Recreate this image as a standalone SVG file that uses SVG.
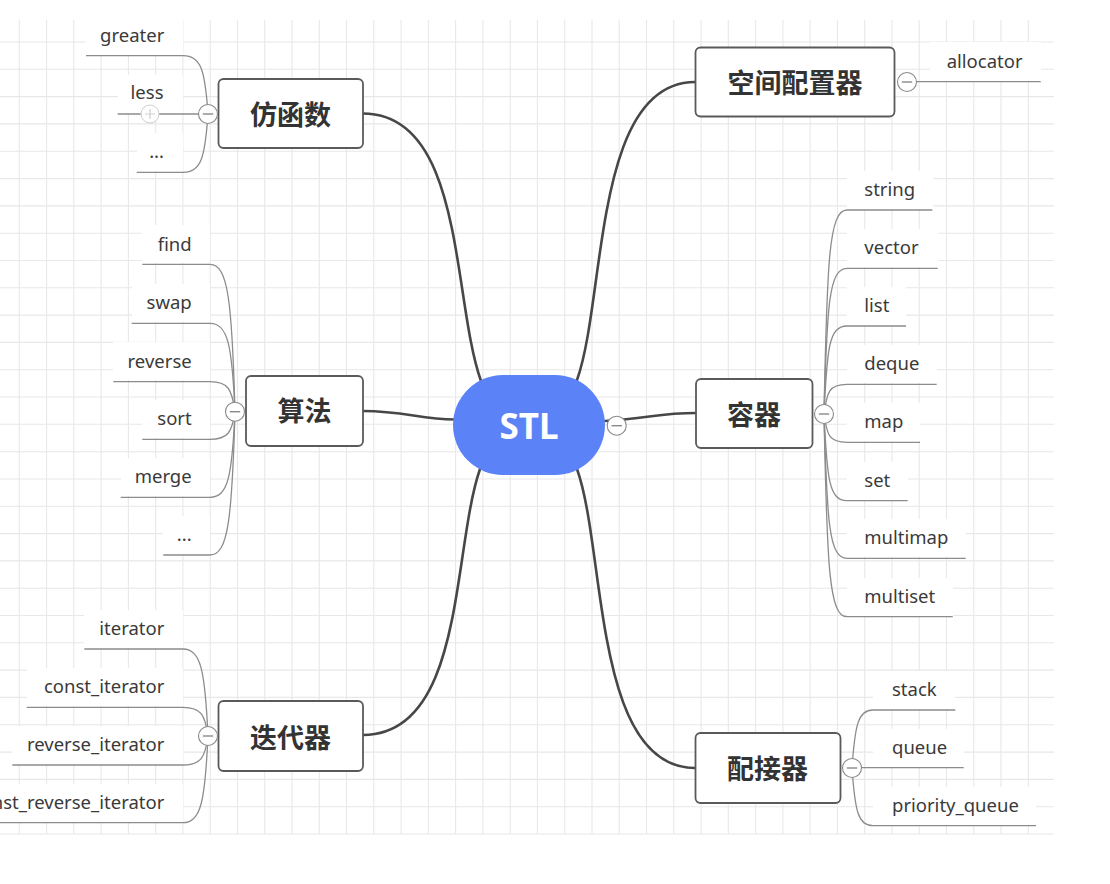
<svg xmlns="http://www.w3.org/2000/svg" width="1110" height="884" viewBox="0 0 1110 884">
<style>
.grid{fill:none;stroke:#e8e8e8;stroke-width:1.1}
.main{fill:none;stroke:#474747;stroke-width:2.6;stroke-linecap:round}
.sub{fill:none;stroke:#8c8c8c;stroke-width:1.3}
.box{fill:#ffffff;stroke:#5a5a5a;stroke-width:1.8}
.lbl{fill:#ffffff;stroke:none}
.bt{font-family:"Noto Sans CJK SC","Noto Sans",sans-serif;font-weight:700;font-size:27px;fill:#333333;text-anchor:middle}
.ct{font-family:"Noto Sans","Noto Sans CJK SC",sans-serif;font-size:18.5px;fill:#3a3a3a}
.l{text-anchor:end}
.r{text-anchor:start}
.col{fill:#ffffff;stroke:#8a8a8a;stroke-width:1.1}
.minus{stroke:#8a8a8a;stroke-width:1.4}
</style>
<rect x="0" y="0" width="1110" height="884" fill="#ffffff"/>
<g id="grid">
<path class="grid" d="M19.3,20V834M46.6,20V834M73.8,20V834M101.1,20V834M128.4,20V834M155.7,20V834M182.9,20V834M210.2,20V834M237.5,20V834M264.7,20V834M292,20V834M319.3,20V834M346.5,20V834M373.8,20V834M401.1,20V834M428.4,20V834M455.6,20V834M482.9,20V834M510.2,20V834M537.4,20V834M564.7,20V834M592,20V834M619.2,20V834M646.5,20V834M673.8,20V834M701.1,20V834M728.3,20V834M755.6,20V834M782.9,20V834M810.1,20V834M837.4,20V834M864.7,20V834M891.9,20V834M919.2,20V834M946.5,20V834M973.8,20V834M1001,20V834M1028.3,20V834"/>
<path class="grid" d="M0,42H1054M0,69.3H1054M0,96.6H1054M0,123.9H1054M0,151.2H1054M0,178.6H1054M0,205.9H1054M0,233.2H1054M0,260.5H1054M0,287.8H1054M0,315.1H1054M0,342.4H1054M0,369.7H1054M0,397H1054M0,424.3H1054M0,451.7H1054M0,479H1054M0,506.3H1054M0,533.6H1054M0,560.9H1054M0,588.2H1054M0,615.5H1054M0,642.8H1054M0,670.1H1054M0,697.4H1054M0,724.8H1054M0,752.1H1054M0,779.4H1054M0,806.7H1054M0,834H1054"/>
</g>
<g id="label-backgrounds">
<rect class="lbl" x="86" y="17" width="97" height="38"/>
<rect class="lbl" x="118" y="75" width="65" height="38"/>
<rect class="lbl" x="137" y="133" width="46" height="38"/>
<rect class="lbl" x="142" y="225" width="68" height="38"/>
<rect class="lbl" x="132" y="284" width="78" height="38"/>
<rect class="lbl" x="113" y="342" width="97" height="38"/>
<rect class="lbl" x="142" y="400" width="68" height="38"/>
<rect class="lbl" x="121" y="458" width="89" height="38"/>
<rect class="lbl" x="163" y="516" width="47" height="38"/>
<rect class="lbl" x="84" y="610" width="99" height="38"/>
<rect class="lbl" x="27" y="668" width="156" height="38"/>
<rect class="lbl" x="12" y="726" width="171" height="38"/>
<rect class="lbl" x="0" y="784" width="183" height="38"/>
<rect class="lbl" x="930" y="42" width="111" height="39"/>
<rect class="lbl" x="847" y="171" width="86" height="38"/>
<rect class="lbl" x="847" y="229" width="91" height="38"/>
<rect class="lbl" x="847" y="287" width="59" height="38"/>
<rect class="lbl" x="847" y="345" width="90" height="38"/>
<rect class="lbl" x="847" y="403" width="73" height="38"/>
<rect class="lbl" x="847" y="462" width="61" height="38"/>
<rect class="lbl" x="847" y="519" width="119" height="38"/>
<rect class="lbl" x="847" y="578" width="106" height="38"/>
<rect class="lbl" x="873" y="671" width="82" height="38"/>
<rect class="lbl" x="873" y="729" width="91" height="38"/>
<rect class="lbl" x="873" y="787" width="163" height="38"/>
</g>
<g id="connectors">
<path class="main" d="M363,113.5 C465,113.5 452,300 481,381"/>
<path class="main" d="M695,82 C593,82 606,299 577,380"/>
<path class="main" d="M363,411 C405,411 420,419.5 455,419.5"/>
<path class="main" d="M605,421 C650,418 660,413 696,413"/>
<path class="main" d="M363,735 C465,735 452,550 480,469"/>
<path class="main" d="M577,469 C606,550 593,768 695,768"/>
<path class="sub" d="M86,55.7H183C201,55.7 205,70 208,114"/>
<path class="sub" d="M117.7,114H208"/>
<path class="sub" d="M136.7,172.3H183C201,172.3 205,158 208,114"/>
<path class="sub" d="M142.3,264.3H210C228,264.3 232,301 235,411.7"/>
<path class="sub" d="M131.7,323.3H210C228,323.3 232,345.4 235,411.7"/>
<path class="sub" d="M113.3,381.7H210C228,381.7 232,389.2 235,411.7"/>
<path class="sub" d="M142.3,439.3H210C228,439.3 232,432.4 235,411.7"/>
<path class="sub" d="M120.7,497.3H210C228,497.3 232,476.7 235,411.7"/>
<path class="sub" d="M163.3,555H210C228,555 232,519.5 235,411.7"/>
<path class="sub" d="M84.3,649H183C201,649 205,670.8 208,736"/>
<path class="sub" d="M26.7,707.3H183C201,707.3 205,714.5 208,736"/>
<path class="sub" d="M12.3,765H183C201,765 205,757.8 208,736"/>
<path class="sub" d="M-5,822.7H183C201,822.7 205,801 208,736"/>
<path class="sub" d="M907,81.7H1040.7"/>
<path class="sub" d="M932.3,210H847C829,210 827,261 824,414"/>
<path class="sub" d="M937.7,268.3H847C829,268.3 827,304.7 824,414"/>
<path class="sub" d="M906,326H847C829,326 827,348 824,414"/>
<path class="sub" d="M936.7,384.3H847C829,384.3 827,391.7 824,414"/>
<path class="sub" d="M920,442.3H847C829,442.3 827,435.2 824,414"/>
<path class="sub" d="M907.7,500.7H847C829,500.7 827,478.8 824,414"/>
<path class="sub" d="M965.7,558.3H847C829,558.3 827,522.4 824,414"/>
<path class="sub" d="M952.7,616.7H847C829,616.7 827,566.2 824,414"/>
<path class="sub" d="M955.3,710H873C858,710 855,725 852,768"/>
<path class="sub" d="M852,767.7H963.7"/>
<path class="sub" d="M1036,825.7H873C858,825.7 855,811 852,768"/>
</g>
<g id="node-stl">
<rect x="453" y="375" width="152" height="100" rx="50" fill="#5b83f7"/>
<text x="529" y="439" font-family="'Noto Sans','Liberation Sans',sans-serif" font-weight="700" font-size="35" fill="#ffffff" text-anchor="middle">STL</text>
<circle class="col" cx="616.7" cy="425.7" r="9.5"/>
<line class="minus" x1="611.5" y1="425.7" x2="621.9" y2="425.7"/>
</g>
<g id="node-functor">
<rect class="box" x="218.5" y="79" width="144.5" height="69" rx="5"/>
<text class="bt" x="290.5" y="125">仿函数</text>
<circle class="col" cx="208" cy="114" r="9.5"/>
<line class="minus" x1="202.8" y1="114" x2="213.2" y2="114"/>
</g>
<g id="node-allocator">
<rect class="box" x="695.5" y="47.5" width="199" height="69" rx="5"/>
<text class="bt" x="795" y="93">空间配置器</text>
<circle class="col" cx="907" cy="82" r="9.5"/>
<line class="minus" x1="901.8" y1="82" x2="912.2" y2="82"/>
</g>
<g id="node-algorithm">
<rect class="box" x="246" y="376" width="117" height="70" rx="5"/>
<text class="bt" x="304.5" y="421">算法</text>
<circle class="col" cx="235" cy="411.7" r="9.5"/>
<line class="minus" x1="229.8" y1="411.7" x2="240.2" y2="411.7"/>
</g>
<g id="node-container">
<rect class="box" x="696" y="379" width="116.5" height="69" rx="5"/>
<text class="bt" x="754" y="425">容器</text>
<circle class="col" cx="824" cy="414" r="9.5"/>
<line class="minus" x1="818.8" y1="414" x2="829.2" y2="414"/>
</g>
<g id="node-iterator">
<rect class="box" x="218.5" y="701" width="144.5" height="70" rx="5"/>
<text class="bt" x="290.5" y="747.5">迭代器</text>
<circle class="col" cx="208" cy="736" r="9.5"/>
<line class="minus" x1="202.8" y1="736" x2="213.2" y2="736"/>
</g>
<g id="node-adapter">
<rect class="box" x="695.5" y="733" width="145" height="70" rx="5"/>
<text class="bt" x="767.5" y="779">配接器</text>
<circle class="col" cx="852" cy="768" r="9.5"/>
<line class="minus" x1="846.8" y1="768" x2="857.2" y2="768"/>
</g>
<g id="functor-children">
<text class="ct l" x="164.3" y="41.7">greater</text>
<g id="node-less">
<text class="ct l" x="163.5" y="99.3">less</text>
<circle cx="150" cy="114" r="9" fill="#ffffff" stroke="#cfcfcf" stroke-width="1"/>
<path d="M145,114H155M150,109V119" stroke="#cfcfcf" stroke-width="1.2"/>
</g>
<text class="ct l" x="164" y="158">...</text>
</g>
<g id="algorithm-children">
<text class="ct l" x="191.7" y="250.5">find</text>
<text class="ct l" x="191.7" y="309.3">swap</text>
<text class="ct l" x="191.7" y="367.5">reverse</text>
<text class="ct l" x="191.7" y="425.3">sort</text>
<text class="ct l" x="191.7" y="483.3">merge</text>
<text class="ct l" x="191.7" y="541">...</text>
</g>
<g id="iterator-children">
<text class="ct l" x="164.3" y="635">iterator</text>
<text class="ct l" x="164.3" y="693.3">const_iterator</text>
<text class="ct l" x="164.3" y="751">reverse_iterator</text>
<text class="ct l" x="164.3" y="808.7">const_reverse_iterator</text>
</g>
<g id="allocator-children">
<text class="ct r" x="946.7" y="67.7">allocator</text>
</g>
<g id="container-children">
<text class="ct r" x="864.3" y="196">string</text>
<text class="ct r" x="864.3" y="254.3">vector</text>
<text class="ct r" x="864.3" y="312">list</text>
<text class="ct r" x="864.3" y="370.3">deque</text>
<text class="ct r" x="864.3" y="428.3">map</text>
<text class="ct r" x="864.3" y="486.7">set</text>
<text class="ct r" x="864.3" y="544.3">multimap</text>
<text class="ct r" x="864.3" y="602.7">multiset</text>
</g>
<g id="adapter-children">
<text class="ct r" x="892" y="696">stack</text>
<text class="ct r" x="892" y="753.7">queue</text>
<text class="ct r" x="892" y="811.7">priority_queue</text>
</g>
</svg>
